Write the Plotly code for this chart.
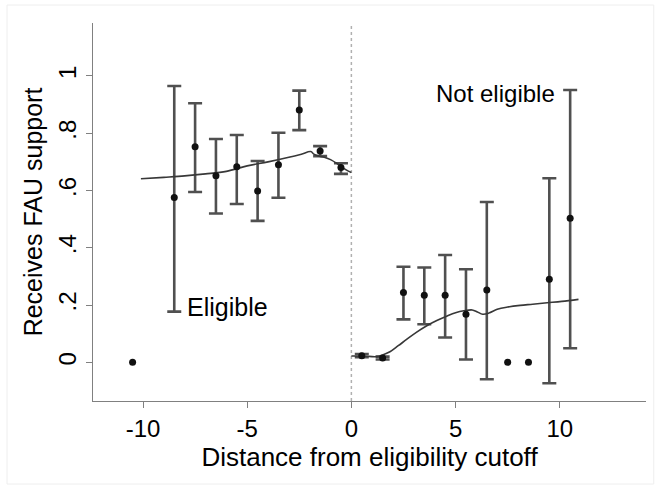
import plotly.graph_objects as go

# Binned means with 95% CIs (None = no interval)
bin_x = [-10.5, -8.5, -7.5, -6.5, -5.5, -4.5, -3.5, -2.5, -1.5, -0.5,
         0.5, 1.5, 2.5, 3.5, 4.5, 5.5, 6.5, 7.5, 8.5, 9.5, 10.5]
bin_mean = [0.0, 0.576, 0.753, 0.652, 0.683, 0.598, 0.690, 0.881, 0.738, 0.680,
            0.023, 0.015, 0.244, 0.234, 0.234, 0.168, 0.253, 0.0, 0.0, 0.290, 0.503]
ci_low = [None, 0.177, 0.595, 0.520, 0.553, 0.494, 0.575, 0.811, 0.720, 0.658,
          0.018, 0.010, 0.150, 0.133, 0.087, 0.010, -0.059, None, None, -0.073, 0.049]
ci_high = [None, 0.965, 0.905, 0.780, 0.794, 0.703, 0.802, 0.949, 0.755, 0.695,
           0.029, 0.020, 0.334, 0.331, 0.375, 0.325, 0.560, None, None, 0.643, 0.951]

# Local smooth (left of cutoff)
smooth_left_x = [-10.1, -9.0, -8.0, -7.0, -6.0, -5.0, -4.0, -3.0, -2.4, -1.95,
                 -1.8, -1.6, -1.3, -1.0, -0.6, -0.25, 0.0]
smooth_left_y = [0.641, 0.646, 0.651, 0.658, 0.667, 0.686, 0.700, 0.716, 0.727, 0.736,
                 0.727, 0.721, 0.716, 0.708, 0.690, 0.672, 0.663]
# Local smooth (right of cutoff)
smooth_right_x = [0.0, 0.6, 1.2, 1.5, 1.85, 2.25, 2.65, 3.1, 3.6, 4.1, 4.6, 5.0,
                  5.4, 5.8, 6.05, 6.3, 6.6, 7.0, 7.5, 8.1, 8.7, 9.4, 10.1, 10.9]
smooth_right_y = [0.022, 0.022, 0.020, 0.026, 0.037, 0.058, 0.080, 0.104, 0.127, 0.146,
                  0.162, 0.173, 0.180, 0.183, 0.176, 0.168, 0.172, 0.185, 0.193, 0.199,
                  0.203, 0.208, 0.213, 0.220]

x_ticks = [-10, -5, 0, 5, 10]
x_tick_labels = ["-10", "-5", "0", "5", "10"]
y_ticks = [0, 0.2, 0.4, 0.6, 0.8, 1]
y_tick_labels = ["0", ".2", ".4", ".6", ".8", "1"]

FONT = "Liberation Sans, Arial, Helvetica, sans-serif"

ex, ey, eplus, eminus = [], [], [], []
for x, m, lo, hi in zip(bin_x, bin_mean, ci_low, ci_high):
    if lo is None:
        continue
    ex.append(x)
    ey.append(m)
    eplus.append(hi - m)
    eminus.append(m - lo)

fig = go.Figure()
fig.add_trace(go.Scatter(
    x=ex, y=ey, mode="markers",
    marker=dict(size=1, color="rgba(0,0,0,0)"),
    error_y=dict(type="data", symmetric=False, array=eplus, arrayminus=eminus,
                 color="#505050", thickness=2.6, width=7),
    showlegend=False, hoverinfo="skip"))
fig.add_trace(go.Scatter(x=smooth_left_x, y=smooth_left_y, mode="lines",
                         line=dict(color="#383838", width=1.6, shape="spline"),
                         showlegend=False))
fig.add_trace(go.Scatter(x=smooth_right_x, y=smooth_right_y, mode="lines",
                         line=dict(color="#383838", width=1.6, shape="spline"),
                         showlegend=False))
fig.add_trace(go.Scatter(x=bin_x, y=bin_mean, mode="markers",
                         marker=dict(size=7, color="#111111"),
                         showlegend=False))

fig.add_shape(type="line", xref="x", yref="paper", x0=0, x1=0, y0=0, y1=1,
              line=dict(color="#b0b0b0", width=1.5, dash="dot"), layer="below")
fig.add_shape(type="rect", xref="paper", yref="paper",
              x0=-0.1555, x1=1.014, y0=-0.2196, y1=1.0476,
              line=dict(color="#eeeeee", width=1))

fig.add_annotation(x=-7.98, y=0.192, text="Eligible", showarrow=False,
                   xanchor="left", yanchor="middle",
                   font=dict(family=FONT, size=25, color="black"))
fig.add_annotation(x=3.96, y=0.938, text="Not eligible", showarrow=False,
                   xanchor="left", yanchor="middle",
                   font=dict(family=FONT, size=24, color="black"))

fig.update_layout(
    width=660, height=487,
    margin=dict(l=93, r=14, t=23, b=86),
    paper_bgcolor="white", plot_bgcolor="white",
    font=dict(family=FONT, color="black"),
    xaxis=dict(range=[-12.40, 14.14], tickvals=x_ticks, ticktext=x_tick_labels,
               ticks="outside", ticklen=6,
               tickcolor="#808080", tickwidth=1.3, showline=True, linecolor="#808080",
               linewidth=1.3, showgrid=False, zeroline=False,
               tickfont=dict(size=24, color="black"),
               title=dict(text="Distance from eligibility cutoff",
                          font=dict(size=26, color="black"), standoff=2)),
    yaxis=dict(range=[-0.135, 1.185], tickvals=y_ticks, ticktext=y_tick_labels,
               tickangle=-90, ticks="outside", ticklen=6,
               tickcolor="#808080", tickwidth=1.3, showline=True, linecolor="#808080",
               linewidth=1.3, showgrid=False, zeroline=False,
               tickfont=dict(size=24, color="black"),
               title=dict(text="Receives FAU support",
                          font=dict(size=25, color="black"), standoff=4)),
)

fig.write_html("out.html")
